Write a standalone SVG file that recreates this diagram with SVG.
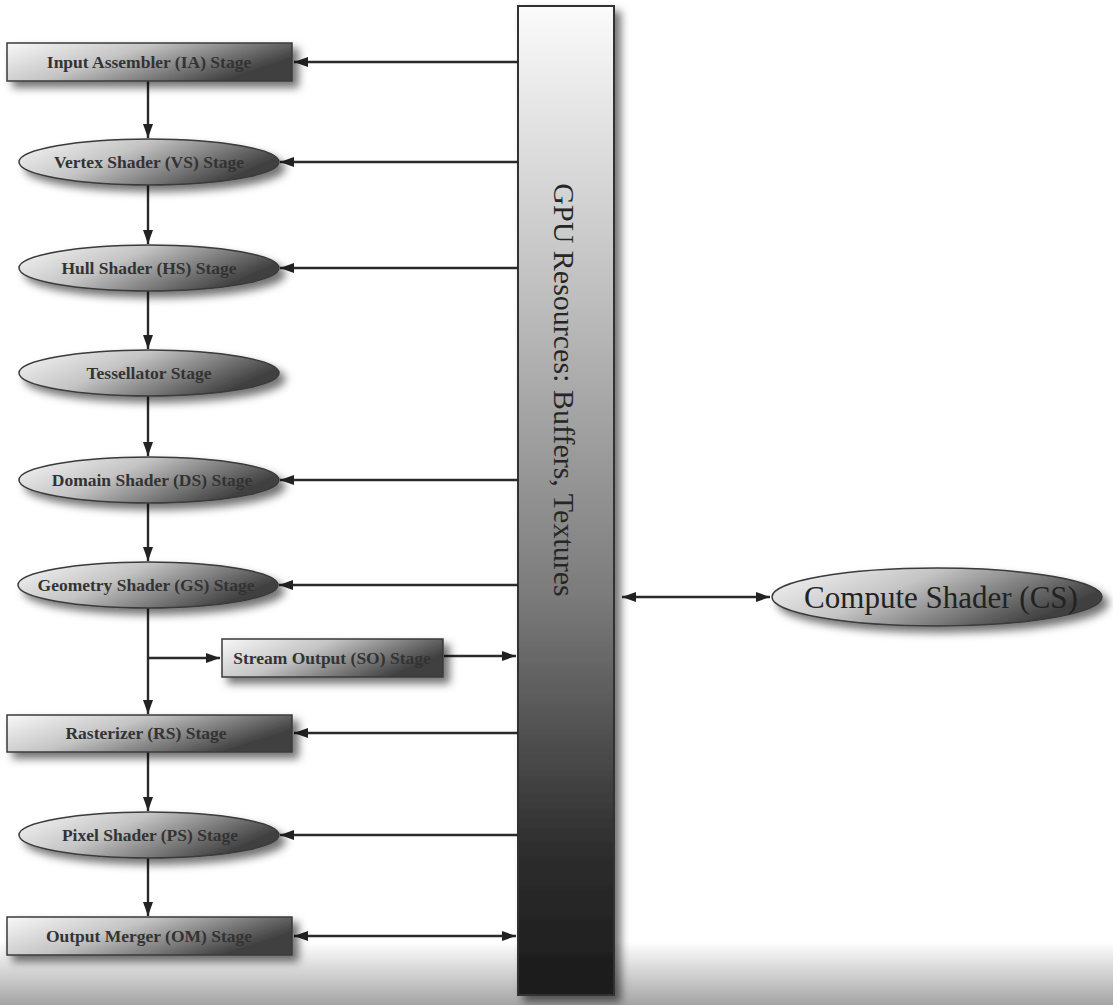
<svg xmlns="http://www.w3.org/2000/svg" width="1113" height="1005" viewBox="0 0 1113 1005">
<style>
.node{stroke:#3a3a3a;stroke-width:1.5;fill:url(#nodeGrad);filter:url(#shadow)}
.lbl{font-family:"Liberation Serif","Times New Roman",serif;font-weight:bold;font-size:17.5px;fill:#333;text-anchor:middle;dominant-baseline:central}
.conn{stroke:#2a2a2a;stroke-width:2.4;fill:none}
</style>
<defs>
<linearGradient id="nodeGrad" x1="0" y1="0" x2="1" y2="0.4">
<stop offset="0" stop-color="#f8f8f8"/>
<stop offset="0.45" stop-color="#c4c4c4"/>
<stop offset="1" stop-color="#404040"/>
</linearGradient>
<linearGradient id="barGrad" x1="0" y1="0" x2="0" y2="1">
<stop offset="0" stop-color="#fbfbfb"/>
<stop offset="0.3" stop-color="#bdbdbd"/>
<stop offset="0.6" stop-color="#7a7a7a"/>
<stop offset="0.85" stop-color="#2e2e2e"/>
<stop offset="1" stop-color="#1a1a1a"/>
</linearGradient>
<linearGradient id="floorGrad" x1="0" y1="0" x2="0" y2="1">
<stop offset="0" stop-color="#ffffff"/>
<stop offset="1" stop-color="#a4a4a4"/>
</linearGradient>
<filter id="shadow" x="-20%" y="-30%" width="150%" height="180%">
<feDropShadow dx="6" dy="6" stdDeviation="4" flood-color="#000" flood-opacity="0.55"/>
</filter>
<marker id="arr" viewBox="0 0 14 10" refX="14" refY="5" markerWidth="14" markerHeight="10" markerUnits="userSpaceOnUse" orient="auto-start-reverse">
<path d="M0,0 L14,5 L0,10 Z" fill="#222"/>
</marker>
</defs>
<rect x="0" y="0" width="1113" height="1005" fill="#ffffff"/>
<rect x="0" y="942" width="1113" height="63" fill="url(#floorGrad)"/>

<g id="gpu-resources">
<rect x="518" y="6" width="96" height="989" fill="url(#barGrad)" stroke="#333" stroke-width="2" filter="url(#shadow)"/>
<text transform="translate(564,390) rotate(90)" font-family="'Liberation Serif','Times New Roman',serif" font-size="30" fill="#262626" text-anchor="middle" dominant-baseline="central">GPU Resources: Buffers, Textures</text>
</g>

<g id="connectors">
<line class="conn" x1="518" y1="62" x2="294" y2="62" marker-end="url(#arr)"/>
<line class="conn" x1="518" y1="162" x2="280" y2="162" marker-end="url(#arr)"/>
<line class="conn" x1="518" y1="268" x2="280" y2="268" marker-end="url(#arr)"/>
<line class="conn" x1="518" y1="480" x2="280" y2="480" marker-end="url(#arr)"/>
<line class="conn" x1="518" y1="585" x2="279" y2="585" marker-end="url(#arr)"/>
<line class="conn" x1="518" y1="733" x2="294" y2="733" marker-end="url(#arr)"/>
<line class="conn" x1="518" y1="835" x2="280" y2="835" marker-end="url(#arr)"/>
<line class="conn" x1="294" y1="936" x2="516" y2="936" marker-start="url(#arr)" marker-end="url(#arr)"/>
<line class="conn" x1="444" y1="656" x2="516" y2="656" marker-end="url(#arr)"/>
<line class="conn" x1="622" y1="597" x2="770" y2="597" marker-start="url(#arr)" marker-end="url(#arr)"/>
<line class="conn" x1="148" y1="81" x2="148" y2="138" marker-end="url(#arr)"/>
<line class="conn" x1="148" y1="185" x2="148" y2="244" marker-end="url(#arr)"/>
<line class="conn" x1="148" y1="291" x2="148" y2="349" marker-end="url(#arr)"/>
<line class="conn" x1="148" y1="396" x2="148" y2="456" marker-end="url(#arr)"/>
<line class="conn" x1="148" y1="503" x2="148" y2="561" marker-end="url(#arr)"/>
<line class="conn" x1="148" y1="608" x2="148" y2="714" marker-end="url(#arr)"/>
<line class="conn" x1="148" y1="658" x2="220" y2="658" marker-end="url(#arr)"/>
<line class="conn" x1="148" y1="752" x2="148" y2="811" marker-end="url(#arr)"/>
<line class="conn" x1="148" y1="858" x2="148" y2="916" marker-end="url(#arr)"/>
</g>

<g id="ia"><rect class="node" x="7" y="43" width="285" height="38"/><text class="lbl" x="149" y="62">Input Assembler (IA) Stage</text></g>
<g id="vs"><ellipse class="node" cx="149" cy="162" rx="130" ry="23"/><text class="lbl" x="149" y="162">Vertex Shader (VS) Stage</text></g>
<g id="hs"><ellipse class="node" cx="149" cy="268" rx="130" ry="23"/><text class="lbl" x="149" y="268">Hull Shader (HS) Stage</text></g>
<g id="ts"><ellipse class="node" cx="149" cy="373" rx="130" ry="23"/><text class="lbl" x="149" y="373">Tessellator Stage</text></g>
<g id="ds"><ellipse class="node" cx="149" cy="480" rx="130" ry="23"/><text class="lbl" x="152" y="480">Domain Shader (DS) Stage</text></g>
<g id="gs"><ellipse class="node" cx="148" cy="585" rx="130" ry="23"/><text class="lbl" x="146" y="585">Geometry Shader (GS) Stage</text></g>
<g id="so"><rect class="node" x="222" y="639" width="221" height="38"/><text class="lbl" x="332" y="658">Stream Output (SO) Stage</text></g>
<g id="rs"><rect class="node" x="7" y="715" width="285" height="37"/><text class="lbl" x="146" y="733">Rasterizer (RS) Stage</text></g>
<g id="ps"><ellipse class="node" cx="149" cy="835" rx="130" ry="23"/><text class="lbl" x="150" y="835">Pixel Shader (PS) Stage</text></g>
<g id="om"><rect class="node" x="7" y="917" width="285" height="38"/><text class="lbl" x="149" y="936">Output Merger (OM) Stage</text></g>
<g id="cs"><ellipse class="node" cx="937" cy="597" rx="165" ry="29"/><text x="941" y="597" font-family="'Liberation Serif','Times New Roman',serif" font-size="31" fill="#222" text-anchor="middle" dominant-baseline="central">Compute Shader (CS)</text></g>
</svg>
